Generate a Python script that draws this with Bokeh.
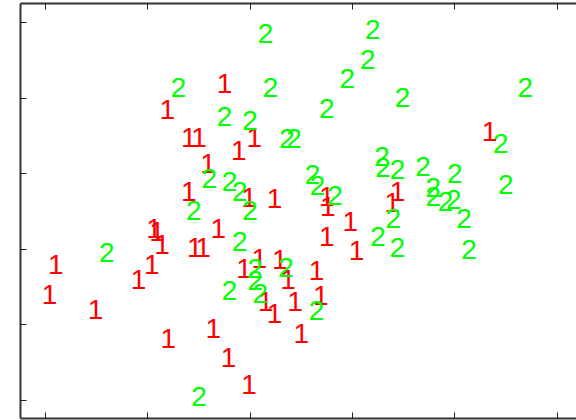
from bokeh.plotting import figure
from bokeh.models import Range1d, LinearAxis, FixedTicker, ColumnDataSource
from bokeh.core.properties import value
from bokeh.embed import file_html
from bokeh.resources import INLINE

# class 1 observations
x1 = [1.75, 1.19, 1.40, 1.50, 2.04, 1.89, 4.34, 1.59, 1.40, 1.99,
      2.24, 2.75, 2.76, 3.44, 3.39, 2.98, 1.06, 1.09, 1.14, 1.69,
      1.46, 1.54, 2.75, 3.04, 0.10, 1.04, 0.91, 0.04, 0.49, 2.09,
      2.29, 1.94, 2.37, 2.65, 2.15, 2.24, 2.44, 2.69, 1.64, 1.20,
      2.50, 1.79, 1.99]
y1 = [4.19, 3.85, 3.48, 3.48, 3.48, 3.30, 3.55, 3.13, 2.76, 2.68,
      2.67, 2.69, 2.56, 2.76, 2.61, 2.37, 2.27, 2.23, 2.06, 2.27,
      2.02, 2.02, 2.16, 1.98, 1.80, 1.80, 1.60, 1.40, 1.20, 1.88,
      1.86, 1.74, 1.59, 1.71, 1.31, 1.15, 1.31, 1.38, 0.95, 0.81,
      0.88, 0.56, 0.21]

# class 2 observations
x2 = [2.15, 3.20, 3.15, 2.95, 1.30, 2.20, 3.49, 4.69, 2.75, 1.75,
      2.00, 2.36, 2.43, 4.45, 2.61, 2.66, 1.60, 1.80, 1.90, 1.45,
      2.00, 2.83, 3.29, 3.30, 3.44, 3.69, 4.00, 3.79, 3.79, 3.91,
      3.99, 4.50, 3.40, 4.09, 3.25, 3.44, 4.14, 1.90, 0.60, 2.05,
      2.05, 2.35, 1.80, 2.10, 2.65, 1.50]
y2 = [4.85, 4.91, 4.51, 4.26, 4.14, 4.14, 4.01, 4.14, 3.86, 3.75,
      3.70, 3.46, 3.46, 3.40, 2.99, 2.84, 2.94, 2.89, 2.76, 2.51,
      2.51, 2.71, 3.22, 3.08, 3.05, 3.09, 3.00, 2.82, 2.70, 2.63,
      2.66, 2.85, 2.40, 2.40, 2.16, 2.02, 2.00, 2.10, 1.95, 1.74,
      1.58, 1.75, 1.45, 1.41, 1.19, 0.05]

ticks = [0, 1, 2, 3, 4, 5]

p = figure(width=576, height=420, output_backend="svg", toolbar_location=None,
           x_range=Range1d(-0.244, 5.19), y_range=Range1d(-0.245, 5.252),
           min_border_left=20, min_border_right=0, min_border_top=3,
           min_border_bottom=2, x_axis_location=None, y_axis_location=None)
p.grid.visible = False
p.outline_line_color = None
p.background_fill_color = "white"
p.border_fill_color = "white"


def frame_axis(ax):
    # frame side with inward ticks and no tick labels
    ax.ticker = FixedTicker(ticks=ticks)
    ax.major_label_text_font_size = "1px"
    ax.major_label_text_color = None
    ax.major_label_standoff = 0
    ax.major_tick_in = 6
    ax.major_tick_out = 0
    ax.minor_tick_line_color = None
    ax.axis_line_color = "#333333"
    ax.axis_line_width = 2
    ax.major_tick_line_color = "#222222"
    ax.major_tick_line_width = 1
    return ax


p.add_layout(frame_axis(LinearAxis()), "left")
p.add_layout(frame_axis(LinearAxis()), "below")
p.add_layout(frame_axis(LinearAxis()), "above")

s1 = ColumnDataSource(dict(x=x1, y=y1, t=["1"] * len(x1)))
s2 = ColumnDataSource(dict(x=x2, y=y2, t=["2"] * len(x2)))

for src, col in ((s1, "#ff0000"), (s2, "#00ff00")):
    p.text(x="x", y="y", text="t", source=src, text_color=col,
           text_font=value("Liberation Sans"), text_font_size="28px",
           text_align="center", text_baseline="middle")

open("out.html", "w").write(file_html(p, INLINE))
